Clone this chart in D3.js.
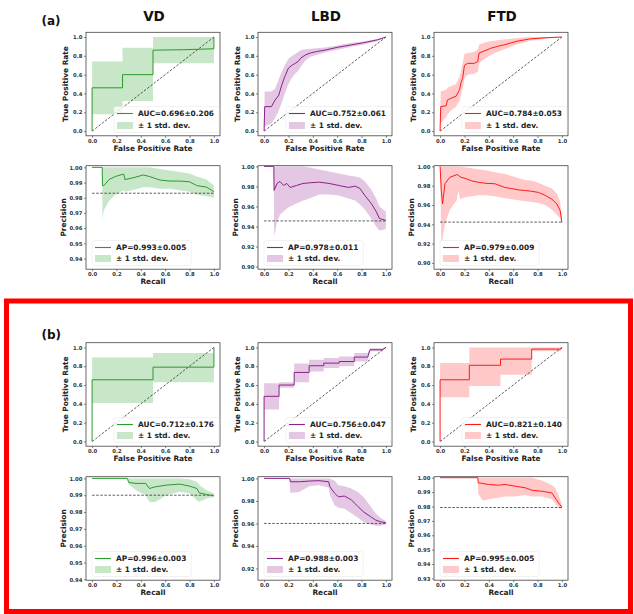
<!DOCTYPE html>
<html>
<head>
<meta charset="utf-8">
<script src="https://cdn.jsdelivr.net/npm/d3@7"></script>
<style>
body { margin: 0; background: #fff; }
svg { display: block; font-family: "DejaVu Sans", sans-serif; font-weight: bold; }
</style>
</head>
<body>
<svg id="chart" width="634" height="614"></svg>
<script>
"use strict";

var diseases = ["VD", "LBD", "FTD"],
	groups = ["(a)", "(b)"];

var roc_ticks = [0, 0.2, 0.4, 0.6, 0.8, 1.0],
	recall_ticks = [0, 0.2, 0.4, 0.6, 0.8, 1.0];

var auc_labels = [["AUC=0.696\u00b10.206", "AUC=0.752\u00b10.061", "AUC=0.784\u00b10.053"],
	["AUC=0.712\u00b10.176", "AUC=0.756\u00b10.047", "AUC=0.821\u00b10.140"]];
var ap_labels = [["AP=0.993\u00b10.005", "AP=0.978\u00b10.011", "AP=0.979\u00b10.009"],
	["AP=0.996\u00b10.003", "AP=0.988\u00b10.003", "AP=0.995\u00b10.005"]];

//no-skill precision (share of positives)
var pr_baselines = [[0.983, 0.9456, 0.9423], [0.990, 0.960, 0.9793]];

//y limits and ticks of the precision axes
var pr_limits = [[[0.933, 1.0011], [0.8974, 1.0007], [0.8935, 1.0007]],
	[[0.9395, 1.001], [0.9096, 1.0015], [0.9288, 1.0007]]];
var pr_ticks = [[[0.94, 0.95, 0.96, 0.97, 0.98, 0.99, 1.00], [0.90, 0.92, 0.94, 0.96, 0.98, 1.00], [0.90, 0.92, 0.94, 0.96, 0.98, 1.00]],
	[[0.94, 0.95, 0.96, 0.97, 0.98, 0.99, 1.00], [0.92, 0.94, 0.96, 0.98, 1.00], [0.93, 0.94, 0.95, 0.96, 0.97, 0.98, 0.99, 1.00]]];

//curves: [x, mean, mean - std, mean + std]
var roc_vd_a = [[0, 0, 0, 0], [0, 0.46, 0.18, 0.74], [0.25, 0.46, 0.18, 0.74], [0.25, 0.60, 0.32, 0.886], [0.5, 0.60, 0.32, 0.886],
	[0.5, 0.86, 0.72, 1.0], [0.75, 0.865, 0.72, 1.0], [1.0, 0.875, 0.72, 1.0], [1.0, 1.0, 1.0, 1.0]];
var roc_lbd_a = [[0, 0, 0, 0], [0.005, 0.26, 0.05, 0.42], [0.06, 0.26, 0.08, 0.42], [0.09, 0.33, 0.14, 0.45], [0.12, 0.38, 0.22, 0.55],
	[0.145, 0.49, 0.30, 0.63], [0.17, 0.58, 0.40, 0.70], [0.20, 0.67, 0.50, 0.77], [0.23, 0.70, 0.57, 0.80], [0.255, 0.72, 0.61, 0.82],
	[0.28, 0.74, 0.64, 0.84], [0.30, 0.775, 0.68, 0.86], [0.34, 0.81, 0.75, 0.87], [0.38, 0.83, 0.79, 0.875], [0.43, 0.845, 0.81, 0.88],
	[0.515, 0.865, 0.84, 0.89], [0.60, 0.89, 0.865, 0.91], [0.71, 0.915, 0.895, 0.935], [0.82, 0.94, 0.92, 0.955], [0.93, 0.97, 0.955, 0.98],
	[1.0, 1.0, 1.0, 1.0]];
var roc_ftd_a = [[0, 0, 0, 0], [0.005, 0.26, 0.08, 0.42], [0.05, 0.27, 0.15, 0.44], [0.06, 0.33, 0.18, 0.46], [0.09, 0.35, 0.22, 0.48],
	[0.13, 0.37, 0.26, 0.50], [0.16, 0.44, 0.32, 0.58], [0.17, 0.51, 0.38, 0.64], [0.185, 0.56, 0.45, 0.72], [0.20, 0.70, 0.56, 0.82],
	[0.225, 0.72, 0.60, 0.83], [0.28, 0.72, 0.61, 0.84], [0.31, 0.74, 0.63, 0.87], [0.32, 0.83, 0.72, 0.92], [0.36, 0.85, 0.76, 0.94],
	[0.415, 0.88, 0.81, 0.955], [0.47, 0.90, 0.84, 0.965], [0.55, 0.925, 0.88, 0.975], [0.63, 0.955, 0.92, 0.99], [0.74, 0.98, 0.96, 1.0],
	[0.88, 0.993, 0.985, 1.0], [1.0, 1.0, 1.0, 1.0]];

var pr_vd_a = [[0, 1, 1, 1], [0.083, 1, 1, 1], [0.085, 0.988, 0.966, 1], [0.097, 0.988, 0.972, 1], [0.14, 0.992, 0.978, 1],
	[0.19, 0.994, 0.982, 1], [0.26, 0.9956, 0.985, 1], [0.27, 0.992, 0.984, 1], [0.33, 0.993, 0.985, 1], [0.42, 0.995, 0.987, 1],
	[0.47, 0.994, 0.987, 1], [0.56, 0.9916, 0.986, 0.999], [0.64, 0.991, 0.986, 0.998], [0.72, 0.991, 0.985, 0.997],
	[0.80, 0.9905, 0.984, 0.996], [0.86, 0.988, 0.982, 0.994], [0.94, 0.987, 0.981, 0.992], [1.0, 0.984, 0.980, 0.988]];
var pr_lbd_a = [[0, 1, 1, 1], [0.08, 1, 1, 1], [0.082, 0.976, 0.93, 1], [0.107, 0.983, 0.945, 1], [0.13, 0.985, 0.952, 1],
	[0.16, 0.981, 0.955, 1], [0.187, 0.983, 0.958, 1], [0.213, 0.979, 0.960, 1], [0.267, 0.981, 0.963, 1], [0.32, 0.983, 0.966, 1],
	[0.373, 0.9836, 0.968, 0.999], [0.453, 0.9843, 0.972, 0.997], [0.533, 0.983, 0.972, 0.995], [0.613, 0.981, 0.971, 0.993],
	[0.693, 0.979, 0.968, 0.991], [0.747, 0.9803, 0.966, 0.99], [0.787, 0.978, 0.962, 0.989], [0.827, 0.971, 0.957, 0.985],
	[0.88, 0.963, 0.948, 0.977], [0.92, 0.955, 0.940, 0.968], [0.947, 0.948, 0.936, 0.960], [0.987, 0.9466, 0.937, 0.956],
	[1.0, 0.946, 0.938, 0.955]];
var pr_ftd_a = [[0, 1, 1, 1], [0.01, 0.975, 0.92, 1], [0.02, 0.961, 0.925, 1], [0.04, 0.982, 0.94, 1], [0.08, 0.9887, 0.955, 1],
	[0.137, 0.9914, 0.965, 1], [0.15, 0.991, 0.975, 1], [0.164, 0.989, 0.966, 1], [0.205, 0.9876, 0.968, 0.999],
	[0.26, 0.985, 0.969, 0.998], [0.315, 0.9835, 0.970, 0.997], [0.37, 0.9825, 0.970, 0.996], [0.45, 0.982, 0.969, 0.994],
	[0.534, 0.978, 0.967, 0.992], [0.589, 0.977, 0.966, 0.990], [0.644, 0.9756, 0.965, 0.988], [0.70, 0.975, 0.964, 0.986],
	[0.753, 0.9742, 0.963, 0.985], [0.808, 0.973, 0.962, 0.983], [0.863, 0.970, 0.960, 0.980], [0.918, 0.966, 0.955, 0.977],
	[0.959, 0.961, 0.950, 0.972], [0.986, 0.954, 0.946, 0.963], [1.0, 0.942, 0.940, 0.945]];

var roc_vd_b = [[0, 0, 0, 0], [0, 0.656, 0.41, 0.894], [0.5, 0.656, 0.41, 0.894], [0.5, 0.79, 0.63, 0.94], [1.0, 0.79, 0.63, 0.94],
	[1.0, 1.0, 1.0, 1.0]];
var roc_lbd_b = [[0, 0, 0, 0], [0, 0.48, 0.34, 0.62], [0.123, 0.48, 0.34, 0.62], [0.123, 0.60, 0.57, 0.63], [0.247, 0.60, 0.57, 0.63],
	[0.247, 0.734, 0.63, 0.83], [0.37, 0.734, 0.63, 0.83], [0.37, 0.805, 0.745, 0.87], [0.49, 0.805, 0.745, 0.87],
	[0.49, 0.833, 0.78, 0.887], [0.616, 0.833, 0.78, 0.887], [0.616, 0.85, 0.80, 0.904], [0.74, 0.85, 0.80, 0.904],
	[0.74, 0.897, 0.85, 0.94], [0.85, 0.897, 0.85, 0.94], [0.87, 0.975, 0.96, 0.99], [0.97, 0.975, 0.96, 0.99], [1.0, 1.0, 1.0, 1.0]];
var roc_ftd_b = [[0, 0, 0, 0], [0, 0.656, 0.47, 0.833], [0.24, 0.656, 0.47, 0.833], [0.24, 0.81, 0.59, 1.0], [0.496, 0.81, 0.59, 1.0],
	[0.496, 0.876, 0.71, 1.0], [0.752, 0.876, 0.71, 1.0], [0.752, 0.982, 0.96, 1.0], [0.99, 0.982, 0.96, 1.0], [1.0, 1.0, 1.0, 1.0]];

var pr_vd_b = [[0, 1, 1, 1], [0.29, 1, 1, 1], [0.30, 0.9976, 0.9965, 1], [0.36, 0.997, 0.993, 1], [0.44, 0.997, 0.990, 1],
	[0.47, 0.994, 0.986, 1], [0.52, 0.995, 0.986, 1], [0.61, 0.996, 0.990, 1], [0.72, 0.9966, 0.992, 1], [0.80, 0.9954, 0.991, 0.9995],
	[0.86, 0.994, 0.987, 0.998], [0.88, 0.9914, 0.986, 0.996], [0.94, 0.9904, 0.988, 0.993], [1.0, 0.9896, 0.989, 0.991]];
var pr_lbd_b = [[0, 1, 1, 1], [0.21, 1, 1, 1], [0.215, 0.997, 0.987, 1], [0.29, 0.997, 0.988, 1], [0.37, 0.9976, 0.993, 1],
	[0.45, 0.998, 0.994, 1], [0.53, 0.997, 0.992, 1], [0.54, 0.9926, 0.985, 1], [0.58, 0.9867, 0.976, 0.998], [0.61, 0.9837, 0.974, 0.994],
	[0.66, 0.9843, 0.973, 0.993], [0.716, 0.981, 0.969, 0.991], [0.77, 0.975, 0.965, 0.988], [0.82, 0.970, 0.961, 0.983],
	[0.875, 0.966, 0.959, 0.975], [0.915, 0.963, 0.958, 0.969], [0.955, 0.9615, 0.958, 0.965], [1.0, 0.9606, 0.959, 0.962]];
var pr_ftd_b = [[0, 1, 1, 1], [0.31, 1, 1, 1], [0.312, 0.9965, 0.989, 1], [0.35, 0.996, 0.984, 1], [0.397, 0.9953, 0.985, 1],
	[0.48, 0.9948, 0.986, 1], [0.534, 0.9953, 0.987, 1], [0.616, 0.9941, 0.987, 1], [0.70, 0.993, 0.988, 1], [0.753, 0.9913, 0.987, 1],
	[0.836, 0.9906, 0.987, 0.998], [0.918, 0.9894, 0.985, 0.995], [0.945, 0.9859, 0.982, 0.993], [0.973, 0.9824, 0.979, 0.988],
	[1.0, 0.9796, 0.978, 0.981]];

var roc_curves = [[roc_vd_a, roc_lbd_a, roc_ftd_a], [roc_vd_b, roc_lbd_b, roc_ftd_b]],
	pr_curves = [[pr_vd_a, pr_lbd_a, pr_ftd_a], [pr_vd_b, pr_lbd_b, pr_ftd_b]];

//layout + style
var col_left = [86, 258, 434],
	row_top = [32.3, 165.7, 342.7, 476.7],
	box_w = 134,
	box_h = 103.5,
	line_colors = ["#2c9a2c", "#8a228a", "#ff1a1a"],
	band_colors = ["#2ca02c", "#800080", "#ff0000"],
	band_opacity = [0.26, 0.22, 0.21],
	tick_font = 5.3,
	label_font = 7.4;

var svg = d3.select("#chart");
var clip_count = 0;

//red box round the (b) rows
svg.append("rect")
	.attr("x", 6.5).attr("y", 301)
	.attr("width", 624).attr("height", 310.5)
	.attr("fill", "none")
	.attr("stroke", "#ff0000")
	.attr("stroke-width", 5);

groups.forEach(function(grp, gi) {
	svg.append("text")
		.attr("x", 41.5).attr("y", gi == 0 ? 25 : 339)
		.attr("font-size", 12)
		.attr("fill", "#111")
		.text(grp);
});

diseases.forEach(function(name, ci) {
	svg.append("text")
		.attr("x", col_left[ci] + box_w / 2 + 1).attr("y", 20.7)
		.attr("text-anchor", "middle")
		.attr("font-size", 13.5)
		.attr("fill", "#111")
		.text(name);
});

for (var gi = 0; gi < 2; gi++) {
	for (var ci = 0; ci < 3; ci++) {
		drawPanel(col_left[ci], row_top[gi * 2], ci, {
			data: roc_curves[gi][ci],
			limits: [-0.05, 1.05],
			yticks: roc_ticks,
			yformat: d3.format(".1f"),
			xlabel: "False Positive Rate",
			ylabel: "True Positive Rate",
			label: auc_labels[gi][ci],
			roc: true
		});
		drawPanel(col_left[ci], row_top[gi * 2 + 1], ci, {
			data: pr_curves[gi][ci],
			limits: pr_limits[gi][ci],
			yticks: pr_ticks[gi][ci],
			yformat: d3.format(".2f"),
			xlabel: "Recall",
			ylabel: "Precision",
			label: ap_labels[gi][ci],
			baseline: pr_baselines[gi][ci],
			roc: false
		});
	}
}

function drawPanel(left, top, ci, opt) {
	var x = d3.scaleLinear().domain([-0.05, 1.05]).range([left, left + box_w]);
	var y = d3.scaleLinear().domain(opt.limits).range([top + box_h, top]);
	var g = svg.append("g");

	var cid = "clip" + (clip_count++);
	g.append("clipPath").attr("id", cid)
		.append("rect").attr("x", left).attr("y", top).attr("width", box_w).attr("height", box_h);
	var plot = g.append("g").attr("clip-path", "url(#" + cid + ")");

	//± 1 std band
	plot.append("path")
		.datum(opt.data)
		.attr("d", d3.area().x(function(d) { return x(d[0]); }).y0(function(d) { return y(d[2]); }).y1(function(d) { return y(d[3]); }))
		.attr("fill", band_colors[ci])
		.attr("fill-opacity", band_opacity[ci]);

	//chance line
	var chance = opt.roc ? [[0, 0], [1, 1]] : [[0, opt.baseline], [1, opt.baseline]];
	plot.append("path")
		.datum(chance)
		.attr("d", d3.line().x(function(d) { return x(d[0]); }).y(function(d) { return y(d[1]); }))
		.attr("fill", "none")
		.attr("stroke", "#333")
		.attr("stroke-width", 0.8)
		.attr("stroke-dasharray", "2.5,1.6");

	//mean curve
	plot.append("path")
		.datum(opt.data)
		.attr("d", d3.line().x(function(d) { return x(d[0]); }).y(function(d) { return y(d[1]); }))
		.attr("fill", "none")
		.attr("stroke", line_colors[ci])
		.attr("stroke-width", 1);

	//axes
	var xa = g.append("g").attr("transform", "translate(0," + (top + box_h) + ")")
		.call(d3.axisBottom(x).tickValues(recall_ticks).tickFormat(d3.format(".1f")).tickSize(2).tickPadding(1.2));
	var ya = g.append("g").attr("transform", "translate(" + left + ",0)")
		.call(d3.axisLeft(y).tickValues(opt.yticks).tickFormat(opt.yformat).tickSize(2).tickPadding(1.5));
	[xa, ya].forEach(function(a) {
		a.select(".domain").remove();
		a.selectAll(".tick line").attr("stroke", "#333").attr("stroke-width", 0.6);
		a.selectAll(".tick text").attr("font-size", tick_font).attr("fill", "#333")
			.attr("font-family", "DejaVu Sans").attr("font-weight", "bold");
	});

	g.append("rect")
		.attr("x", left).attr("y", top).attr("width", box_w).attr("height", box_h)
		.attr("fill", "none").attr("stroke", "#444").attr("stroke-width", 0.8);

	g.append("text")
		.attr("x", left + box_w / 2).attr("y", top + box_h + 12.5)
		.attr("dy", "0.35em")
		.attr("text-anchor", "middle")
		.attr("font-size", label_font)
		.attr("fill", "#222")
		.text(opt.xlabel);

	var yl = left - (opt.roc ? 20.5 : 22.5);
	g.append("text")
		.attr("transform", "translate(" + yl + "," + (top + box_h / 2) + ") rotate(-90)")
		.attr("dy", "0.35em")
		.attr("text-anchor", "middle")
		.attr("font-size", label_font)
		.attr("fill", "#222")
		.text(opt.ylabel);

	//legend (lower right for ROC, lower left for PR)
	var lg = g.append("g");
	var frame = lg.append("rect");
	var row1 = Math.round(top + box_h - 22.7) + 0.5,
		row2 = Math.round(top + box_h - 11) + 0.5;
	var t1 = lg.append("text").attr("y", row1).attr("dy", "0.35em").attr("font-size", label_font).attr("fill", "#222").text(opt.label);
	var t2 = lg.append("text").attr("y", row2).attr("dy", "0.35em").attr("font-size", label_font).attr("fill", "#222").text("\u00b1 1 std. dev.");
	var tw = Math.max(t1.node().getComputedTextLength(), t2.node().getComputedTextLength());
	var tx = opt.roc ? (left + box_w - 6 - t1.node().getComputedTextLength()) : left + 30;
	t1.attr("x", tx);
	t2.attr("x", tx);

	lg.append("path")
		.attr("d", "M" + (tx - 21) + "," + row1 + "H" + (tx - 5))
		.attr("fill", "none")
		.attr("stroke", line_colors[ci]).attr("stroke-width", 1.1);
	lg.append("rect")
		.attr("x", tx - 21).attr("y", row2 - 3.5).attr("width", 16).attr("height", 7)
		.attr("fill", band_colors[ci]).attr("fill-opacity", band_opacity[ci]);

	frame.attr("x", tx - 24).attr("y", row1 - 7)
		.attr("width", tw + 29).attr("height", row2 - row1 + 14)
		.attr("rx", 2)
		.attr("fill", "#fff").attr("fill-opacity", 0.8)
		.attr("stroke", "#e4e4e4").attr("stroke-width", 0.5);
}
</script>
</body>
</html>
